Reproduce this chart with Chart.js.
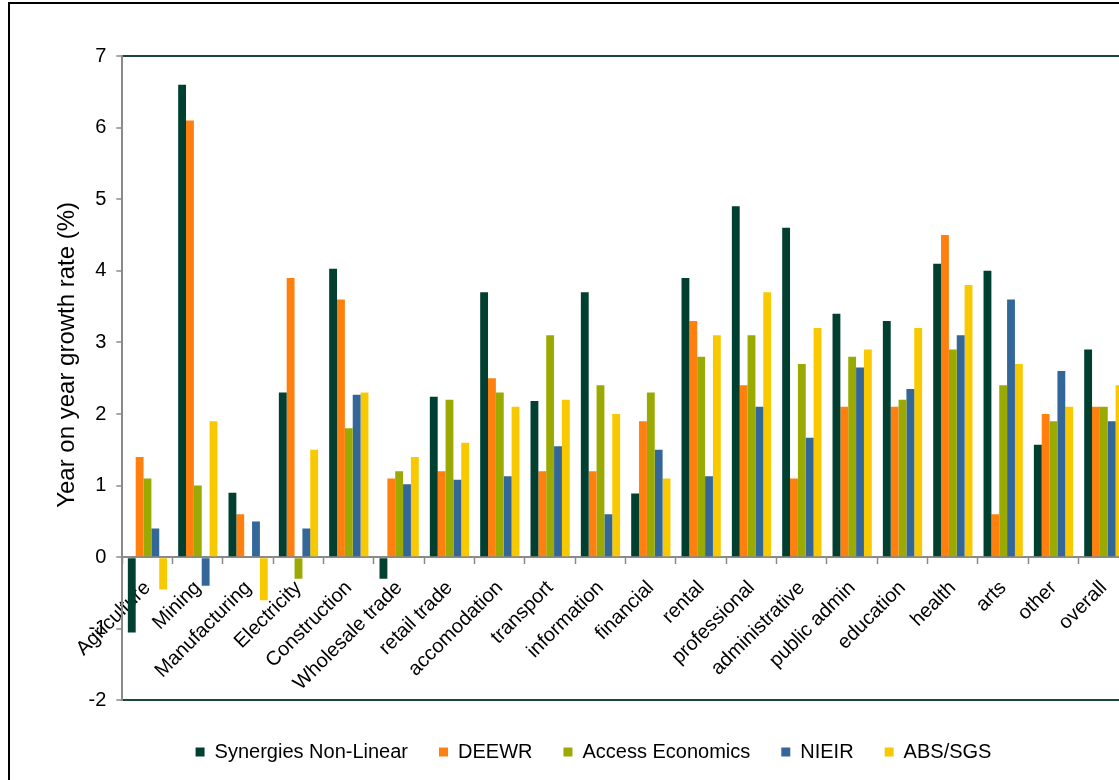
<!DOCTYPE html>
<html>
<head>
<meta charset="utf-8">
<script src="https://cdn.jsdelivr.net/npm/chart.js@4.4.1/dist/chart.umd.min.js"></script>
<style>
  html, body { margin: 0; padding: 0; background: #fff; overflow: hidden; width: 1119px; height: 780px; }
  #frame { position: absolute; left: 8px; top: 2px; border: 2px solid #000; width: 1200px; height: 820px; overflow: hidden; background: #fff; }
  #chart { display: block; }
</style>
</head>
<body>
<div id="frame"><canvas id="chart" width="1167" height="780"></canvas></div>
<script>
// Industry sectors along the x axis
const sectors = ['Agriculture', 'Mining', 'Manufacturing', 'Electricity', 'Construction',
  'Wholesale trade', 'retail trade', 'accomodation', 'transport', 'information',
  'financial', 'rental', 'professional', 'administrative', 'public admin',
  'education', 'health', 'arts', 'other', 'overall'];

// Year on year growth rate (%) by forecaster
const synergies = [-1.05, 6.6, 0.9, 2.3, 4.03, -0.3, 2.24, 3.7, 2.18, 3.7, 0.89, 3.9, 4.9, 4.6, 3.4, 3.3, 4.1, 4.0, 1.57, 2.9];
const deewr     = [1.4, 6.1, 0.6, 3.9, 3.6, 1.1, 1.2, 2.5, 1.2, 1.2, 1.9, 3.3, 2.4, 1.1, 2.1, 2.1, 4.5, 0.6, 2.0, 2.1];
const access    = [1.1, 1.0, 0, -0.3, 1.8, 1.2, 2.2, 2.3, 3.1, 2.4, 2.3, 2.8, 3.1, 2.7, 2.8, 2.2, 2.9, 2.4, 1.9, 2.1];
const nieir     = [0.4, -0.4, 0.5, 0.4, 2.27, 1.02, 1.08, 1.13, 1.55, 0.6, 1.5, 1.13, 2.1, 1.67, 2.65, 2.35, 3.1, 3.6, 2.6, 1.9];
const absSgs    = [-0.45, 1.9, -0.6, 1.5, 2.3, 1.4, 1.6, 2.1, 2.2, 2.0, 1.1, 3.1, 3.7, 3.2, 2.9, 3.2, 3.8, 2.7, 2.1, 2.4];

const seriesNames = ['Synergies Non-Linear', 'DEEWR', 'Access Economics', 'NIEIR', 'ABS/SGS'];
const seriesColors = ['#013f31', '#ff7f0f', '#9aaa03', '#336699', '#f9c900'];
const seriesValues = [synergies, deewr, access, nieir, absSgs];

const yMin = -2, yMax = 7;

const FONT = "'Liberation Sans', Arial, Helvetica, sans-serif";
const axisGrey = '#8a8a8a';
const frameGreen = '#17493b';
// leading no-break spaces lift the rotated axis title a little above the axis centre
const yTitle = '\u00A0'.repeat(7) + 'Year on year growth rate (%)';

const datasets = seriesValues.map((vals, i) => ({
  label: seriesNames[i],
  data: vals,
  backgroundColor: seriesColors[i],
  borderWidth: 0,
  categoryPercentage: 0.78,
  barPercentage: 1.0
}));

new Chart(document.getElementById('chart'), {
  type: 'bar',
  data: { labels: sectors, datasets },
  options: {
    responsive: false,
    animation: false,
    devicePixelRatio: 1,
    layout: { padding: { top: 52, left: 0, right: 0, bottom: 12 } },
    plugins: {
      tooltip: { enabled: false },
      legend: {
        position: 'bottom',
        labels: {
          font: { family: FONT, size: 20 },
          color: '#000',
          boxWidth: 9,
          boxHeight: 9,
          padding: 31
        }
      }
    },
    scales: {
      x: {
        type: 'category',
        position: { y: 0 },
        offset: true,
        z: 1,
        grid: {
          offset: true,
          drawOnChartArea: false,
          drawTicks: true,
          tickLength: 6,
          tickColor: axisGrey,
          tickWidth: 1.5
        },
        border: { display: true, color: axisGrey, width: 2 },
        ticks: {
          autoSkip: false,
          maxRotation: 45,
          minRotation: 45,
          padding: 13,
          color: '#000',
          font: { family: FONT, size: 20 }
        }
      },
      // empty strip between the plot and the legend
      xGap: {
        type: 'linear',
        axis: 'x',
        position: 'bottom',
        afterFit: (s) => { s.height = 10.6; },
        grid: { display: false },
        border: { display: false },
        ticks: { display: false }
      },
      y: {
        type: 'linear',
        position: 'left',
        min: yMin,
        max: yMax,
        afterFit: (s) => { s.width = 112.3; },
        grid: {
          drawOnChartArea: true,
          color: (c) => (c.tick && (c.tick.value === yMax || c.tick.value === yMin)) ? frameGreen : 'rgba(0,0,0,0)',
          lineWidth: 2,
          tickLength: 6,
          tickColor: axisGrey,
          tickWidth: 1.5
        },
        border: { display: true, color: axisGrey, width: 2 },
        ticks: {
          stepSize: 1,
          padding: 10,
          color: '#000',
          font: { family: FONT, size: 20 }
        },
        title: {
          display: true,
          text: yTitle,
          color: '#000',
          font: { family: FONT, size: 24 },
          padding: { top: 43, bottom: 0 }
        }
      },
      // empty strip on the right of the plot
      yRight: {
        type: 'linear',
        position: 'right',
        min: yMin,
        max: yMax,
        afterFit: (s) => { s.width = 48; },
        grid: { display: false },
        border: { display: false },
        ticks: { display: false }
      }
    }
  }
});
</script>
</body>
</html>
